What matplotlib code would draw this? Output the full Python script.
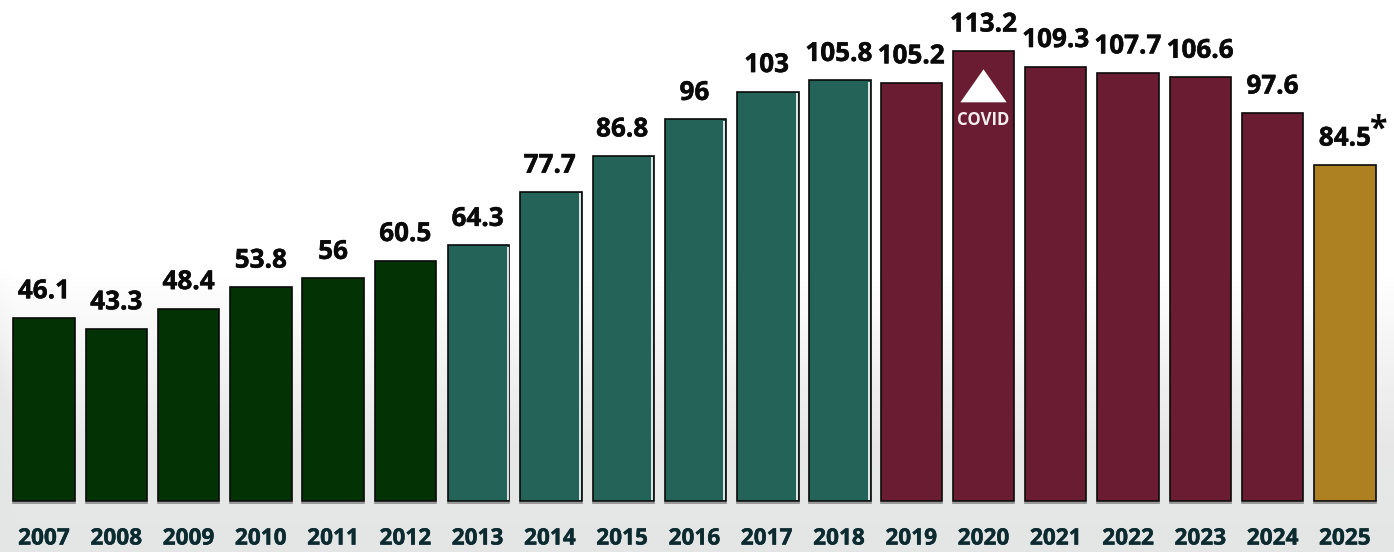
import numpy as np
import matplotlib.pyplot as plt
import matplotlib.patheffects as pe
from matplotlib.colors import LinearSegmentedColormap

years = [2007, 2008, 2009, 2010, 2011, 2012, 2013, 2014, 2015, 2016,
         2017, 2018, 2019, 2020, 2021, 2022, 2023, 2024, 2025]
values = [46.1, 43.3, 48.4, 53.8, 56, 60.5, 64.3, 77.7, 86.8, 96,
          103, 105.8, 105.2, 113.2, 109.3, 107.7, 106.6, 97.6, 84.5]
labels = ['46.1', '43.3', '48.4', '53.8', '56', '60.5', '64.3', '77.7', '86.8', '96',
          '103', '105.8', '105.2', '113.2', '109.3', '107.7', '106.6', '97.6', '84.5']
# colores por sexenio
colors = ['#033305'] * 6 + ['#246357'] * 6 + ['#691C32'] * 6 + ['#AD8121']

plt.rcParams['font.family'] = ['Open Sans', 'DejaVu Sans']

fig = plt.figure(figsize=(13.94, 5.52), dpi=100)

# fondo degradado, un poco mas oscuro en la orilla izquierda
bg = fig.add_axes([0, 0, 1, 1], zorder=0)
bg.axis('off')
gy = np.linspace(0, 1, 552)[:, None]
gx = np.linspace(0, 1, 1394)[None, :]
grad = gy + 0.14 * np.clip(1 - gx / 0.012, 0, 1) * np.clip((gy - 0.45) / 0.35, 0, 1)
cmap = LinearSegmentedColormap.from_list('fondo', [(0, '#ffffff'), (0.5, '#ffffff'),
                                                   (0.8, '#e8e8e8'), (1, '#e4e6e6')])
bg.imshow(grad, aspect='auto', cmap=cmap, vmin=0, vmax=1)

ax = fig.add_axes([0, 0, 1, 1], zorder=1)
ax.patch.set_alpha(0)
ax.axis('off')
x = np.arange(len(years), dtype=float)
x[6:12] += 0.015  # las barras 2013-2018 van corridas un pixel
w = 0.85
ax.set_xlim(-0.609, 18.68)
ax.set_ylim(-12.83, 126.04)

ax.bar(x, values, width=w, color=colors, edgecolor='#0a0a0a', linewidth=1.2)

# filo blanco a la derecha en las barras 2013-2018
ax.vlines(x[6:12] + w / 2 - 0.025, 0.3, np.array(values[6:12]) - 0.3, color='white', lw=1.2)
# linea gris bajo las barras
for xi in x:
    ax.plot([xi - w / 2, xi + w / 2], [-0.45, -0.45], color='#8a8a8a', lw=1.2)

grueso = [pe.withStroke(linewidth=0.35, foreground='#0a0a0a')]
for i, v in enumerate(values):
    ax.text(i, v + 3.4, labels[i], ha='center', va='bottom', fontsize=18.8,
            fontweight='bold', color='#0a0a0a', path_effects=grueso)
    ax.text(i, -9.45, str(years[i]), ha='center', va='center', fontsize=16.3,
            fontweight='bold', color='#0c2b30',
            path_effects=[pe.withStroke(linewidth=0.3, foreground='#0c2b30')])

ax.text(18.455, 84.5 + 4.7, '*', ha='center', va='bottom', fontsize=23,
        fontweight='bold', color='#0a0a0a')

# marca COVID
ax.fill([12.68, 13.0, 13.32], [100.3, 108.6, 100.3], color='white', zorder=3, lw=0)
ax.text(13, 95.8, 'COVID', ha='center', va='center', fontsize=12.1, fontweight='bold',
        color='#f4eeee', zorder=3)

fig.savefig('out.png', dpi=100)
